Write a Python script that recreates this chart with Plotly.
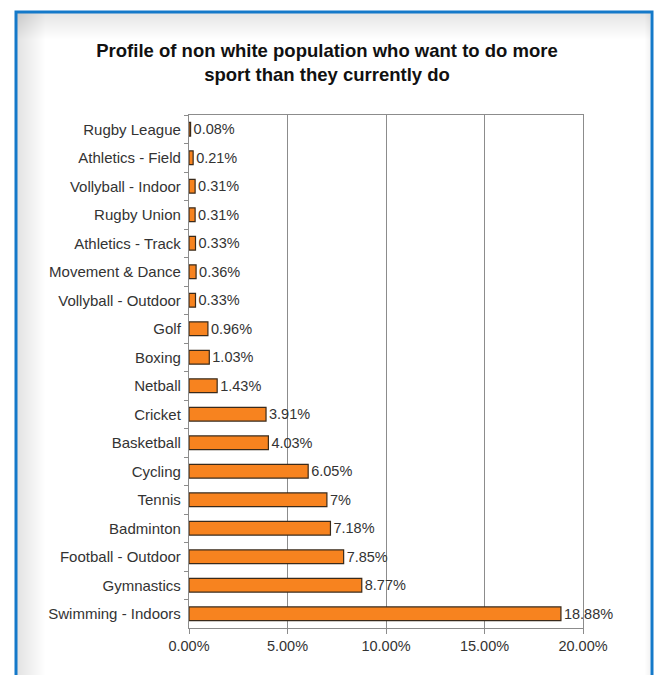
import plotly.graph_objects as go

sports = ["Rugby League", "Athletics - Field", "Vollyball - Indoor", "Rugby Union",
          "Athletics - Track", "Movement & Dance", "Vollyball - Outdoor", "Golf",
          "Boxing", "Netball", "Cricket", "Basketball", "Cycling", "Tennis",
          "Badminton", "Football - Outdoor", "Gymnastics", "Swimming - Indoors"]
values = [0.08, 0.21, 0.31, 0.31, 0.33, 0.36, 0.33, 0.96, 1.03, 1.43, 3.91, 4.03,
          6.05, 7, 7.18, 7.85, 8.77, 18.88]
labels = [f"{v:g}%" for v in values]
x_ticks = [0, 5, 10, 15, 20]
x_ticklabels = ["0.00%", "5.00%", "10.00%", "15.00%", "20.00%"]

W, H = 654, 675
L, R, T, B = 189, 583, 115, 628


def px(x):
    return (x - L) / (R - L)


def py(y):
    return (B - y) / (B - T)


FONT = "Liberation Sans, Arial, sans-serif"

fig = go.Figure()
fig.add_trace(go.Bar(
    x=values, y=sports, orientation="h",
    marker=dict(color="#F7831F", line=dict(color="#3a2a1a", width=1.2)),
    text=labels, textposition="outside", cliponaxis=False, constraintext="none",
    textfont=dict(family=FONT, size=14.5, color="#333"),
    width=0.48,
))

shapes = []
# soft grey shading inside the frame (top and left), stacked for a gradient
for i in range(1, 27):
    shapes.append(dict(type="rect", xref="paper", yref="paper",
                       x0=px(17), x1=px(650), y0=py(13 + i), y1=py(13),
                       line=dict(width=0), fillcolor="rgba(0,0,0,0.0045)", layer="below"))
for i in range(1, 29):
    shapes.append(dict(type="rect", xref="paper", yref="paper",
                       x0=px(17), x1=px(17 + i), y0=py(H + 5), y1=py(13),
                       line=dict(width=0), fillcolor="rgba(0,0,0,0.0045)", layer="below"))
for i in range(1, 6):
    shapes.append(dict(type="rect", xref="paper", yref="paper",
                       x0=px(650 - i), x1=px(650), y0=py(H + 5), y1=py(13),
                       line=dict(width=0), fillcolor="rgba(0,0,0,0.008)", layer="below"))
# blue frame
shapes.append(dict(type="rect", xref="paper", yref="paper",
                   x0=px(16), x1=px(652), y0=py(H + 10), y1=py(12),
                   line=dict(color="#1479C9", width=3), fillcolor="rgba(0,0,0,0)",
                   layer="below"))

fig.update_layout(
    width=W, height=H,
    margin=dict(l=L, r=W - R, t=T, b=H - B),
    paper_bgcolor="white", plot_bgcolor="white",
    showlegend=False,
    title=dict(text="<b>Profile of non white population who want to do more<br>sport than they currently do</b>",
               x=0.5, xref="container", xanchor="center",
               y=1 - 57 / H, yref="container", yanchor="middle",
               font=dict(family=FONT, size=18.5, color="#111")),
    font=dict(family=FONT, size=15, color="#333"),
    xaxis=dict(range=[0, 20], tickvals=x_ticks, ticktext=x_ticklabels,
               showgrid=True, gridcolor="#8c8c8c", gridwidth=1,
               showline=True, linecolor="#8c8c8c", mirror=True,
               ticks="outside", ticklen=5, tickcolor="#8c8c8c",
               zeroline=False, fixedrange=True,
               tickfont=dict(family=FONT, size=14.5, color="#333")),
    yaxis=dict(autorange="reversed", showline=True, linecolor="#8c8c8c", mirror=True,
               ticks="outside", ticklen=4, tickcolor="#8c8c8c", tickson="boundaries",
               showgrid=False, ticksuffix=" ",
               tickfont=dict(family=FONT, size=15, color="#333")),
    shapes=shapes,
)

fig.write_html("out.html")
